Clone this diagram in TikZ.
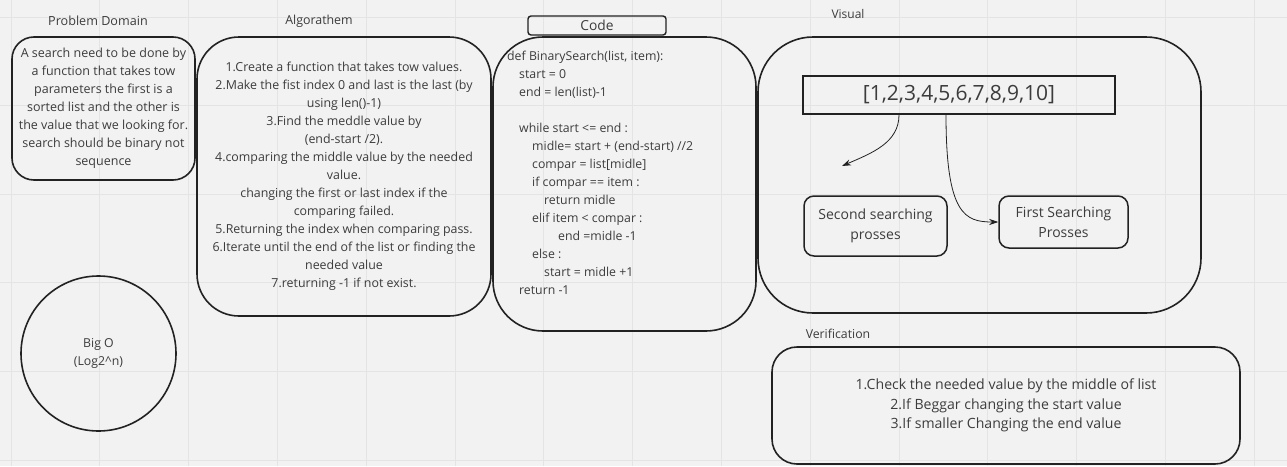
\documentclass[tikz,border=0pt]{standalone}
\usepackage{fontspec}
\setmainfont{Open Sans}
\usetikzlibrary{arrows.meta}
\definecolor{bg}{HTML}{F2F2F2}
\definecolor{gridc}{HTML}{E4E4E4}
\definecolor{txt}{HTML}{3C3C3C}
\definecolor{edge}{HTML}{222222}
\begin{document}
\begin{tikzpicture}[x=1pt,y=-1pt,
  box/.style={draw=edge,line width=1.6pt,text=txt,align=center,inner sep=0pt},
  lbl/.style={text=txt,inner sep=0pt},
  conn/.style={draw=edge,line width=0.8pt,-{Stealth[length=9pt,width=6pt]}},
  body/.style={font=\fontsize{12.4}{18}\selectfont}]
\fill[bg] (0,0) rectangle (1287,466);
\useasboundingbox (0,0) rectangle (1287,466);
\foreach \i in {0,...,14} \draw[gridc,line width=0.8pt] (11+88.8*\i,0) -- (11+88.8*\i,466);
\foreach \j in {0,...,5} \draw[gridc,line width=0.8pt] (0,17+88.6*\j) -- (1287,17+88.6*\j);

% labels
\node[lbl,font=\fontsize{12.6}{14}\selectfont] (lpd) at (98,21) {Problem Domain};
\node[lbl,font=\fontsize{12.4}{14}\selectfont] (lal) at (319,21) {Algorathem};
\node[lbl,font=\fontsize{12}{14}\selectfont] (lvi) at (848,14) {Visual};
\node[lbl,font=\fontsize{12.3}{14}\selectfont] (lve) at (838,334) {Verification};
\node[box,line width=1.4pt,rounded corners=3pt,minimum width=138pt,minimum height=19pt,font=\fontsize{13.8}{15}\selectfont] (lco) at (597,25.5) {Code};

% problem domain
\node[box,rounded corners=22pt,minimum width=183pt,minimum height=143pt,font=\fontsize{12.5}{18}\selectfont] (pd) at (103.5,108.5)
 {A search need to be done by\\a function that takes tow\\parameters the first is a\\sorted list and the other is\\the value that we looking for.\\search should be binary not\\sequence};

% algorithm
\node[box,rounded corners=42pt,minimum width=294pt,minimum height=279pt,body] (al) at (344,176.5)
 {1.Create a function that takes tow values.\\2.Make the fist index 0 and last is the last (by\\using len()-1)\\3.Find the meddle value by\\(end-start /2).\\4.comparing the middle value by the needed\\value.\\changing the first or last index if the\\comparing failed.\\5.Returning the index when comparing pass.\\6.Iterate until the end of the list or finding the\\needed value\\7.returning -1 if not exist.};

% code
\node[box,rounded corners=50pt,minimum width=263pt,minimum height=294pt] (co) at (624.5,184) {};
\node[lbl,anchor=north west,align=left,font=\fontsize{12.3}{18}\selectfont] (ct) at (507,50.5)
 {def BinarySearch(list, item):\\
 \hspace*{12pt}start = 0\\
 \hspace*{12pt}end = len(list)-1\\
 \mbox{}\\
 \hspace*{12pt}while start <= end :\\
 \hspace*{25pt}midle= start + (end-start) //2\\
 \hspace*{25pt}compar = list[midle]\\
 \hspace*{25pt}if compar == item :\\
 \hspace*{37pt}return midle\\
 \hspace*{25pt}elif item < compar :\\
 \hspace*{51pt}end =midle -1\\
 \hspace*{25pt}else :\\
 \hspace*{37pt}start = midle +1\\
 \hspace*{12pt}return -1};

% visual
\node[box,rounded corners=55pt,minimum width=443pt,minimum height=276pt] (vi) at (979.5,175) {};
\node[box,line width=1.5pt,minimum width=312pt,minimum height=38pt,font=\fontsize{21}{24}\selectfont] (li) at (959,95) {[1,2,3,4,5,6,7,8,9,10]};
\node[box,line width=1.5pt,rounded corners=10pt,minimum width=143pt,minimum height=60pt,font=\fontsize{14}{20}\selectfont] (se) at (875.5,226) {Second searching\\prosses};
\node[box,line width=1.5pt,rounded corners=10pt,minimum width=129pt,minimum height=52pt,font=\fontsize{14}{20}\selectfont] (fi) at (1063.5,222) {First Searching\\Prosses};
\coordinate (a1) at (842,166);
\draw[conn] ([xshift=-60pt]li.south) .. controls +(0,28) and (872,153) .. (a1);
\draw[conn] ([xshift=-13pt]li.south) .. controls +(0,100) and (965,222) .. (fi.west);

% big O
\node[box,circle,minimum size=155pt,font=\fontsize{12.3}{18}\selectfont] (bo) at (98.5,353.5) {Big O\\(Log2\textasciicircum n)};

% verification
\node[box,rounded corners=25pt,minimum width=468pt,minimum height=117pt,font=\fontsize{14.1}{19.5}\selectfont] (ve) at (1006,405.5)
 {1.Check the needed value by the middle of list\\2.If Beggar changing the start value\\3.If smaller Changing the end value};
\end{tikzpicture}
\end{document}
